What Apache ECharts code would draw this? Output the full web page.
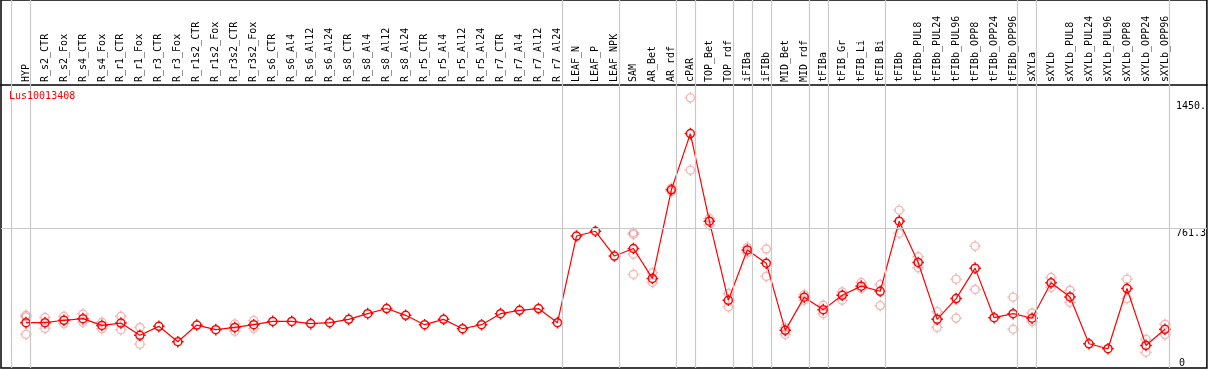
<!DOCTYPE html>
<html>
<head>
<meta charset="utf-8">
<script src="https://cdn.jsdelivr.net/npm/echarts@6/dist/echarts.min.js"></script>
<style>html,body{margin:0;padding:0;background:#fff}#c{width:1209px;height:370px}</style>
</head>
<body>
<div id="c"></div>
<script>
const geneName = 'Lus10013408';
const categories = ['HYP','R_s2_CTR','R_s2_Fox','R_s4_CTR','R_s4_Fox','R_r1_CTR','R_r1_Fox','R_r3_CTR','R_r3_Fox','R_r1s2_CTR','R_r1s2_Fox','R_r3s2_CTR','R_r3s2_Fox','R_s6_CTR','R_s6_Al4','R_s6_Al12','R_s6_Al24','R_s8_CTR','R_s8_Al4','R_s8_Al12','R_s8_Al24','R_r5_CTR','R_r5_Al4','R_r5_Al12','R_r5_Al24','R_r7_CTR','R_r7_Al4','R_r7_Al12','R_r7_Al24','LEAF_N','LEAF_P','LEAF_NPK','SAM','AR_Bet','AR_rdf','cPAR','TOP_Bet','TOP_rdf','iFIBa','iFIBb','MID_Bet','MID_rdf','tFIBa','tFIB_Gr','tFIB_Li','tFIB_Bi','tFIBb','tFIBb_PUL8','tFIBb_PUL24','tFIBb_PUL96','tFIBb_OPP8','tFIBb_OPP24','tFIBb_OPP96','sXYLa','sXYLb','sXYLb_PUL8','sXYLb_PUL24','sXYLb_PUL96','sXYLb_OPP8','sXYLb_OPP24','sXYLb_OPP96'];
const means = [247,247,260,269,232,245,178,227,143,234,209,221,236,254,254,242,247,265,296,324,287,236,265,214,236,296,314,324,247,719,745,610,651,488,971,1277,800,369,643,571,205,386,318,396,446,418,800,575,265,378,544,274,296,271,464,387,132,105,433,123,211];
const replicates = [[287,278,183],[275,216],[282,242],[294,249],[249,214],[282,209],[221,130],[],[],[],[],[240,200],[258,216],[],[],[],[],[],[],[],[],[],[],[],[],[],[],[],[],[],[],[],[737,728,620,510],[519,466],[980,961],[1472,1078],[816,779],[406,333],[657,628],[648,499],[220,183],[400,369],[342,296],[415,369],[466,433],[455,340],[860,734],[606,546],[307,221],[484,272],[664,428],[],[386,211],[300,253],[493,439],[424,357],[],[],[484,378],[156,86],[238,182]];
// group separators: a line is drawn after these category indices (-1 = before first)
const groupEnds = [-1,0,28,31,34,35,37,38,39,41,42,45,52,53,60];
const yTickValues = [761.3, 1450];
const yTickLabels = ['761.3', '1450.'];
const zeroTickValues = [0];
const zeroTickLabels = ['0'];
const refLineValue = 761.3;

const mono = 'DejaVu Sans Mono';
const r = 4, k = 2.21;
const sym = 'path://M0,-5.8L0,-4M0,4L0,5.8M-5.8,0L-4,0M4,0L5.8,0' +
  `M${r},0C${r},${k} ${k},${r} 0,${r}C-${k},${r} -${r},${k} -${r},0C-${r},-${k} -${k},-${r} 0,-${r}C${k},-${r} ${r},-${k} ${r},0Z`;

const meanData = means.map((v, i) => [i, v]);
const repData = [];
replicates.forEach((arr, i) => arr.forEach(v => repData.push([i, v])));

const chart = echarts.init(document.getElementById('c'), null, {renderer: 'canvas'});
chart.setOption({
  animation: false,
  backgroundColor: '#fff',
  title: {
    text: geneName, left: 9, top: 91, padding: 0,
    textStyle: {color: '#ff0000', fontSize: 10, fontWeight: 'normal', fontFamily: mono}
  },
  grid: {
    left: 1, right: 1, top: 0, bottom: 2,
    show: true, borderColor: '#000', borderWidth: 1.5, backgroundColor: 'transparent'
  },
  xAxis: {
    type: 'value', position: 'top', offset: -85,
    min: -25 / 19, max: (1208 - 26) / 19,
    axisLine: {show: true, onZero: false, lineStyle: {color: '#000', width: 1.5}},
    axisTick: {show: false},
    splitLine: {show: false},
    axisLabel: {
      customValues: categories.map((c, i) => i),
      formatter: v => categories[Math.round(v)] || '',
      rotate: -90, margin: 3, fontSize: 10, fontFamily: mono, color: '#000',
      showMinLabel: true, showMaxLabel: true
    }
  },
  yAxis: [{
    type: 'value', position: 'right', min: 0, max: 2005,
    axisLine: {show: false, onZero: false}, axisTick: {show: false}, splitLine: {show: false},
    axisLabel: {
      customValues: yTickValues,
      formatter: v => yTickLabels[yTickValues.indexOf(v)] ?? '',
      inside: true, margin: 31, align: 'left', verticalAlign: 'top',
      fontSize: 10, fontFamily: mono, color: '#000'
    }
  }, {
    type: 'value', position: 'right', min: 0, max: 2005,
    axisLine: {show: false, onZero: false}, axisTick: {show: false}, splitLine: {show: false},
    axisLabel: {
      customValues: zeroTickValues,
      formatter: v => zeroTickLabels[zeroTickValues.indexOf(v)] ?? '',
      inside: true, margin: 28, align: 'left', verticalAlign: 'bottom',
      fontSize: 10, fontFamily: mono, color: '#000', showMinLabel: true
    }
  }],
  series: [{
    type: 'line', name: 'groups', data: [], silent: true, z: 1,
    markLine: {
      silent: true, symbol: 'none', label: {show: false},
      lineStyle: {color: '#c8c8c8', width: 1.2, type: 'solid'},
      data: groupEnds.map(g => ({xAxis: g + 4.5 / 19})).concat([{yAxis: refLineValue}])
    }
  }, {
    type: 'scatter', name: 'replicates', data: repData, z: 2,
    symbol: sym, symbolSize: 11.6,
    itemStyle: {color: 'rgba(0,0,0,0)', borderColor: 'rgba(230,90,90,0.55)', borderWidth: 1.4}
  }, {
    type: 'line', name: 'mean', data: meanData, z: 3,
    symbol: sym, symbolSize: 11.6, showAllSymbol: true,
    lineStyle: {color: '#ff0000', width: 1.2},
    itemStyle: {color: 'rgba(0,0,0,0)', borderColor: '#ff0000', borderWidth: 1.5}
  }]
});
</script>
</body>
</html>
